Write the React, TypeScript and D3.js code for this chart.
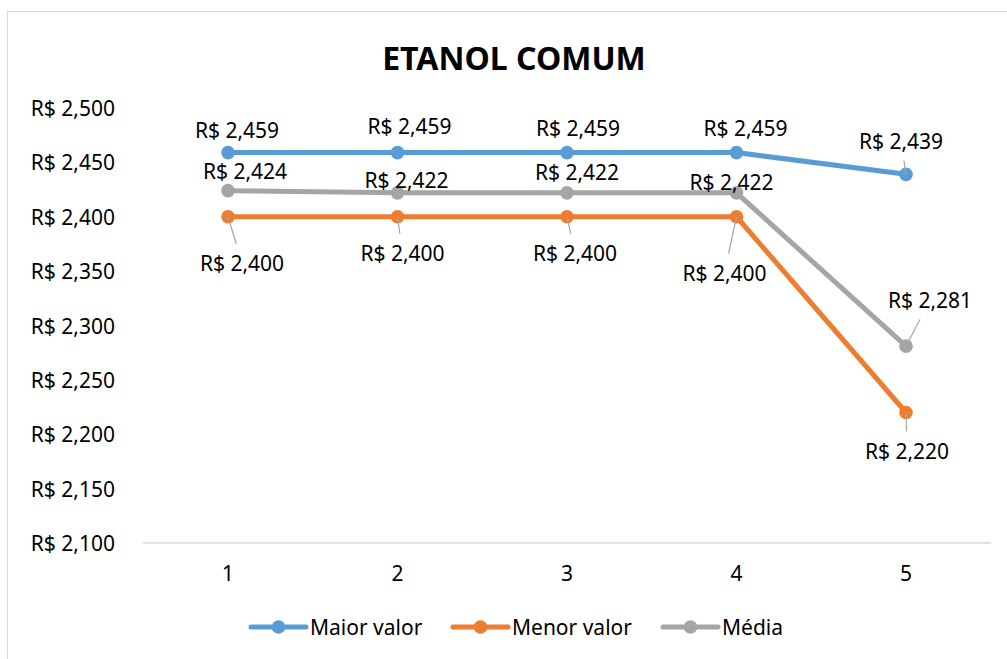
import { useMemo } from "react"
import * as d3 from "d3"

const categories = ["1", "2", "3", "4", "5"]
const seriesNames = ["Maior valor", "Menor valor", "Média"]
const maiorValor = [2.459, 2.459, 2.459, 2.459, 2.439]
const menorValor = [2.4, 2.4, 2.4, 2.4, 2.22]
const media = [2.424, 2.422, 2.422, 2.422, 2.281]
const yTicks = [2.1, 2.15, 2.2, 2.25, 2.3, 2.35, 2.4, 2.45, 2.5]

const colors = ["#5B9BD5", "#ED7D31", "#A5A5A5"]

// label placement (offset of label centre from its point), and whether a leader line is drawn
const labelLayout: Array<Array<{ dx: number; dy: number; leader: boolean }>> = [
  [
    { dx: 9, dy: -23, leader: false },
    { dx: 12, dy: -27, leader: false },
    { dx: 11, dy: -25, leader: false },
    { dx: 9, dy: -25, leader: false },
    { dx: -5, dy: -33, leader: true },
  ],
  [
    { dx: 14, dy: 46, leader: true },
    { dx: 5, dy: 36, leader: true },
    { dx: 8, dy: 36, leader: true },
    { dx: -12, dy: 56, leader: true },
    { dx: 1, dy: 38, leader: true },
  ],
  [
    { dx: 17, dy: -20, leader: false },
    { dx: 9, dy: -13, leader: false },
    { dx: 10, dy: -21, leader: false },
    { dx: -5, dy: -11, leader: false },
    { dx: 24, dy: -46, leader: true },
  ],
]
const legendX = [251, 453, 663]

const W = 1007
const H = 659
const font = "'Noto Sans', sans-serif"
const fs = 21
const fmt = (v: number) => "R$ " + d3.format(".3f")(v).replace(".", ",")

export default function App() {
  const series = [maiorValor, menorValor, media]

  const x = useMemo(
    () => d3.scalePoint<string>().domain(categories).range([143.25, 990.75]).padding(0.5),
    [],
  )
  const y = useMemo(() => d3.scaleLinear().domain([2.1, 2.5]).range([543, 108]), [])

  const line = d3
    .line<number>()
    .x((_, i) => x(categories[i]) as number)
    .y((d) => y(d))

  // leader from the point to just outside the label box
  const leader = (px: number, py: number, cx: number, cy: number) => {
    const dx = px - cx
    const dy = py - cy
    const s = Math.min(dx === 0 ? Infinity : 50 / Math.abs(dx), dy === 0 ? Infinity : 19 / Math.abs(dy))
    if (s >= 1) return null
    return { x2: cx + s * dx, y2: cy + s * dy }
  }

  return (
    <svg
      width={W}
      height={H}
      style={{ position: "absolute", left: 0, top: 0, display: "block", background: "#fff" }}
      fontFamily={font}
    >
      <rect x={7.5} y={11.5} width={1010} height={660} fill="#fff" stroke="#D9D9D9" />

      <text x={514} y={57} textAnchor="middle" dominantBaseline="central" fontSize={32} fontWeight="bold" fill="#000">
        ETANOL COMUM
      </text>

      {/* y axis labels */}
      {yTicks.map((t) => (
        <text key={t} x={115} y={y(t)} textAnchor="end" dominantBaseline="central" fontSize={fs} fill="#000">
          {fmt(t)}
        </text>
      ))}

      {/* x axis */}
      <line x1={143} x2={991} y1={y(2.1)} y2={y(2.1)} stroke="#D9D9D9" strokeWidth={1.5} />
      {categories.map((c) => (
        <text key={c} x={x(c)} y={573} textAnchor="middle" dominantBaseline="central" fontSize={fs} fill="#000">
          {c}
        </text>
      ))}

      {/* lines */}
      {series.map((s, si) => (
        <path key={si} d={line(s) ?? ""} fill="none" stroke={colors[si]} strokeWidth={5} strokeLinejoin="round" />
      ))}
      {series.map((s, si) =>
        s.map((v, i) => <circle key={`${si}-${i}`} cx={x(categories[i])} cy={y(v)} r={6.8} fill={colors[si]} />),
      )}

      {/* leader lines */}
      {series.map((s, si) =>
        s.map((v, i) => {
          const L = labelLayout[si][i]
          if (!L.leader) return null
          const px = x(categories[i]) as number
          const py = y(v)
          const e = leader(px, py, px + L.dx, py + L.dy)
          if (!e) return null
          return <line key={`l${si}-${i}`} x1={px} y1={py} x2={e.x2} y2={e.y2} stroke="#A6A6A6" strokeWidth={1.2} />
        }),
      )}

      {/* data labels */}
      {series.map((s, si) =>
        s.map((v, i) => {
          const L = labelLayout[si][i]
          const px = x(categories[i]) as number
          return (
            <text
              key={`t${si}-${i}`}
              x={px + L.dx}
              y={y(v) + L.dy}
              textAnchor="middle"
              dominantBaseline="central"
              fontSize={fs}
              fill="#000"
            >
              {fmt(v)}
            </text>
          )
        }),
      )}

      {/* legend */}
      {seriesNames.map((n, i) => (
        <g key={n} transform={`translate(${legendX[i]},627)`}>
          <line x1={0} x2={55} y1={0} y2={0} stroke={colors[i]} strokeWidth={5} strokeLinecap="round" />
          <circle cx={27.5} cy={0} r={6.8} fill={colors[i]} />
          <text x={59} y={0} dominantBaseline="central" fontSize={fs} fill="#000">
            {n}
          </text>
        </g>
      ))}
    </svg>
  )
}
